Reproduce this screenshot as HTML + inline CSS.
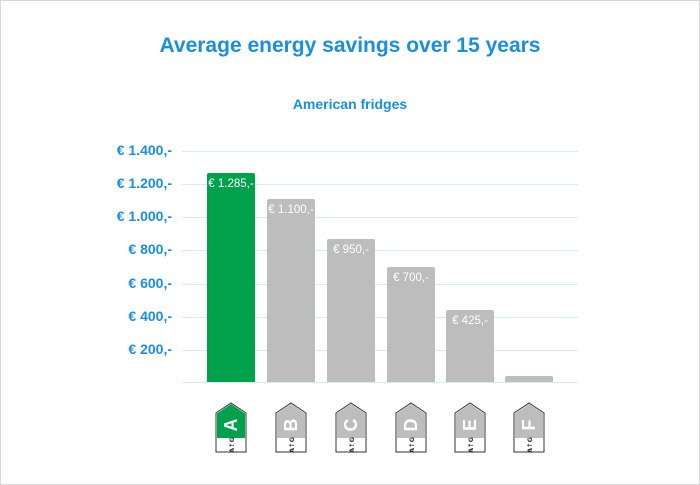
<!DOCTYPE html>
<html><head><style>
body{margin:0;background:#fff;font-family:"Liberation Sans",sans-serif}
.f{position:absolute;left:0;top:0;width:698px;height:483px;border:1px solid #d8d8d8}
.t{position:absolute;left:0;width:700px;text-align:center;color:#1a8ee0;font-weight:bold}
.yl{position:absolute;right:528px;color:#1a8ee0;font-weight:bold;font-size:14px}
.g{position:absolute;left:182px;width:396px;height:1px;background:#d6ebf8}
.b{position:absolute;width:48px;background:#bdbdbd;border-radius:2px 2px 0 0;color:#fff;font-size:11.5px;text-align:center;padding-top:5px;box-sizing:border-box}
</style></head><body>
<div class="f"></div>
<div class="t" style="top:34px;font-size:21px">Average energy savings over 15 years</div>
<div class="t" style="top:96px;font-size:14px">American fridges</div>
<div class="g" style="top:151px"></div><div class="g" style="top:184px"></div><div class="g" style="top:217px"></div><div class="g" style="top:250px"></div><div class="g" style="top:284px"></div><div class="g" style="top:317px"></div><div class="g" style="top:350px"></div><div class="g" style="top:382px"></div>
<div class="yl" style="top:142px">€ 1.400,-</div>
<div class="yl" style="top:175px">€ 1.200,-</div>
<div class="yl" style="top:208px">€ 1.000,-</div>
<div class="yl" style="top:241px">€ 800,-</div>
<div class="yl" style="top:275px">€ 600,-</div>
<div class="yl" style="top:308px">€ 400,-</div>
<div class="yl" style="top:341px">€ 200,-</div>
<div class="b" style="left:207px;top:173px;height:209px;background:#00a14b">€ 1.285,-</div>
<div class="b" style="left:267px;top:199px;height:183px">€ 1.100,-</div>
<div class="b" style="left:327px;top:239px;height:143px">€ 950,-</div>
<div class="b" style="left:387px;top:267px;height:115px">€ 700,-</div>
<div class="b" style="left:446px;top:310px;height:72px">€ 425,-</div>
<div class="b" style="left:505px;top:376px;height:6px"></div>
<svg style="position:absolute;left:0;top:0" width="700" height="485">
<g font-family="Liberation Sans" font-weight="bold" fill="#fff">
<g transform="translate(231,0)"><path d="M-15,413 L0,403 L15,413 L15,452 L-15,452Z" fill="#fff" stroke="#333" stroke-width="1"/><path d="M-14,413.5 L0,404 L14,413.5 L14,438 L-14,438Z" fill="#00a14b"/><text transform="translate(6,425) rotate(-90)" text-anchor="middle" font-size="18">A</text><text transform="translate(3,445) rotate(-90)" text-anchor="middle" font-size="6.5" font-family="DejaVu Sans" fill="#333">A↑G</text></g>
<g transform="translate(291,0)"><path d="M-15,413 L0,403 L15,413 L15,452 L-15,452Z" fill="#fff" stroke="#333" stroke-width="1"/><path d="M-14,413.5 L0,404 L14,413.5 L14,438 L-14,438Z" fill="#bdbdbd"/><text transform="translate(6,425) rotate(-90)" text-anchor="middle" font-size="18">B</text><text transform="translate(3,445) rotate(-90)" text-anchor="middle" font-size="6.5" font-family="DejaVu Sans" fill="#333">A↑G</text></g>
<g transform="translate(351,0)"><path d="M-15,413 L0,403 L15,413 L15,452 L-15,452Z" fill="#fff" stroke="#333" stroke-width="1"/><path d="M-14,413.5 L0,404 L14,413.5 L14,438 L-14,438Z" fill="#bdbdbd"/><text transform="translate(6,425) rotate(-90)" text-anchor="middle" font-size="18">C</text><text transform="translate(3,445) rotate(-90)" text-anchor="middle" font-size="6.5" font-family="DejaVu Sans" fill="#333">A↑G</text></g>
<g transform="translate(411,0)"><path d="M-15,413 L0,403 L15,413 L15,452 L-15,452Z" fill="#fff" stroke="#333" stroke-width="1"/><path d="M-14,413.5 L0,404 L14,413.5 L14,438 L-14,438Z" fill="#bdbdbd"/><text transform="translate(6,425) rotate(-90)" text-anchor="middle" font-size="18">D</text><text transform="translate(3,445) rotate(-90)" text-anchor="middle" font-size="6.5" font-family="DejaVu Sans" fill="#333">A↑G</text></g>
<g transform="translate(470,0)"><path d="M-15,413 L0,403 L15,413 L15,452 L-15,452Z" fill="#fff" stroke="#333" stroke-width="1"/><path d="M-14,413.5 L0,404 L14,413.5 L14,438 L-14,438Z" fill="#bdbdbd"/><text transform="translate(6,425) rotate(-90)" text-anchor="middle" font-size="18">E</text><text transform="translate(3,445) rotate(-90)" text-anchor="middle" font-size="6.5" font-family="DejaVu Sans" fill="#333">A↑G</text></g>
<g transform="translate(529,0)"><path d="M-15,413 L0,403 L15,413 L15,452 L-15,452Z" fill="#fff" stroke="#333" stroke-width="1"/><path d="M-14,413.5 L0,404 L14,413.5 L14,438 L-14,438Z" fill="#bdbdbd"/><text transform="translate(6,425) rotate(-90)" text-anchor="middle" font-size="18">F</text><text transform="translate(3,445) rotate(-90)" text-anchor="middle" font-size="6.5" font-family="DejaVu Sans" fill="#333">A↑G</text></g>
</g></svg>
</body></html>
